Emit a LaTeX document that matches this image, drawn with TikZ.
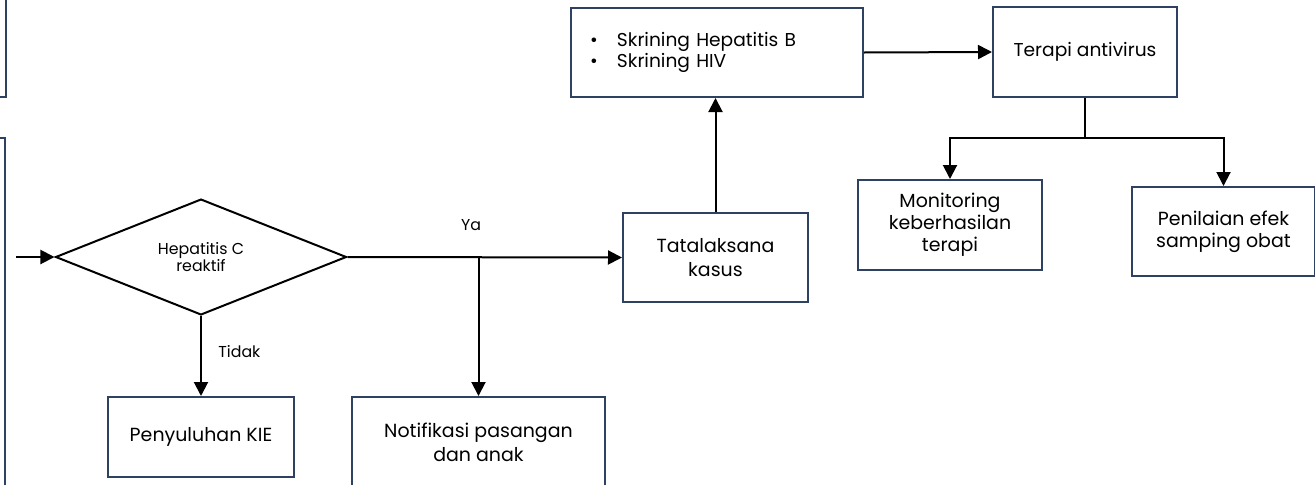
\documentclass[tikz,border=0pt]{standalone}
\usepackage{fontspec}
\setmainfont{Poppins}
\usetikzlibrary{arrows.meta,shapes.geometric}
\definecolor{boxblue}{HTML}{2F4160}
\begin{document}
\begin{tikzpicture}[x=0.2mm, y=-0.2mm,
  box/.style={draw=boxblue, line width=0.4mm, fill=white, align=center, inner sep=0pt, font=\fontsize{10.8}{13.6}\selectfont},
  arr/.style={-{Triangle[length=2.8mm, width=2.8mm]}, line width=0.4mm},
  lbl/.style={font=\fontsize{9}{10}\selectfont}]
  \useasboundingbox (0,0) rectangle (1315,484);
  \clip (0,0) rectangle (1315,484);

  % Boxes cut off at the left
  \node[box, minimum width=37.2mm, minimum height=21.4mm] (prev1) at (-87, 43.5) {};
  \node[box, minimum width=38mm, minimum height=76.8mm] (prev2) at (-90, 330) {};
  \coordinate (in) at (16, 257);

  % Main nodes
  \node[diamond, draw, line width=0.4mm, inner sep=0pt, minimum width=58.2mm, minimum height=21.6mm, align=center, font=\fontsize{9}{10}\selectfont] (hcv) at (201, 257) {Hepatitis C\\reaktif};
  \node[box, minimum width=37.2mm, minimum height=16mm] (kie) at (201, 437) {Penyuluhan KIE};
  \node[box, minimum width=50.6mm, minimum height=18mm] (notif) at (478.5, 442) {Notifikasi pasangan\\dan anak};
  \node[box, minimum width=37mm, minimum height=17.8mm] (tata) at (715.5, 257.5) {Tatalaksana\\kasus};
  \node[box, minimum height=17.8mm, text width=50.8mm, inner xsep=3.8mm, align=left, font=\fontsize{10.6}{12}\selectfont] (skr) at (717, 52.5)
    {\makebox[5.4mm][l]{\textbullet}Skrining Hepatitis B\\\makebox[5.4mm][l]{\textbullet}Skrining HIV};
  \node[box, minimum width=36.8mm, minimum height=18mm, font=\fontsize{10.6}{12}\selectfont] (terapi) at (1085, 52) {Terapi antivirus};
  \node[box, minimum width=36.8mm, minimum height=18mm, font=\fontsize{10.8}{12.5}\selectfont] (mon) at (950, 225) {Monitoring\\keberhasilan\\terapi};
  \node[box, minimum width=36.6mm, minimum height=17.8mm, font=\fontsize{10.8}{12.5}\selectfont] (efek) at (1223.5, 231.5) {Penilaian efek\\samping obat};

  % Edges - decision
  \draw[arr] (in) -- (hcv.west);
  \draw[arr] (hcv.east) -- node[lbl, above=11pt, pos=0.45] {Ya} (tata.west);
  \draw[arr] (hcv.east -| notif.north) -- (notif.north);
  \draw[arr] (hcv.south) -- node[lbl, right=6pt, pos=0.45] {Tidak} (kie.north);

  % Edges - treatment
  \draw[arr] (tata.north) -- (tata.north |- skr.south);
  \draw[arr] (skr.east) -- (terapi.west);
  \draw[line width=0.4mm] (terapi.south) -- (1085, 138) coordinate (split);
  \draw[arr] (split) -| (mon.north);
  \draw[arr] (split) -| (efek.north);
\end{tikzpicture}
\end{document}
